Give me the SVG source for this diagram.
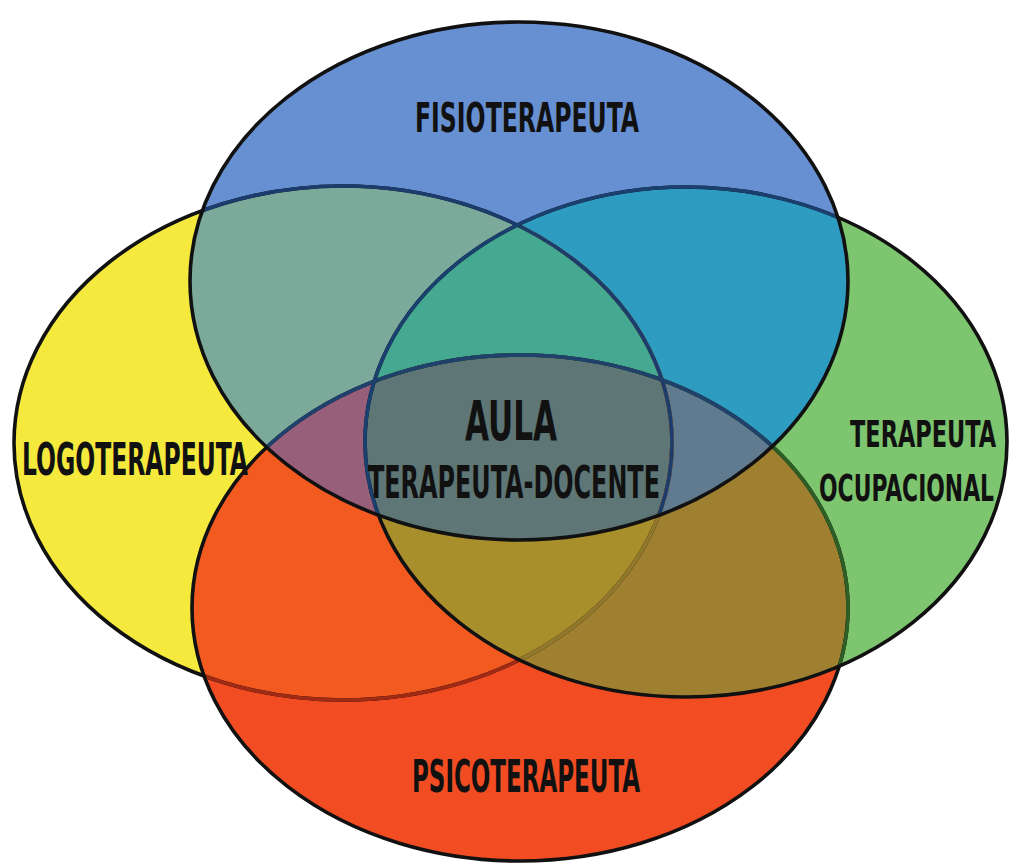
<svg xmlns="http://www.w3.org/2000/svg" width="1013" height="866" viewBox="0 0 1013 866">
<style>
.lbl{font-family:'DejaVu Sans Condensed','DejaVu Sans',sans-serif;font-weight:bold;fill:#111;}
.st{fill:none;stroke-width:3.6;}
</style>
<defs>
<ellipse id="eB" cx="519" cy="281" rx="329" ry="259"/>
<ellipse id="eY" cx="343" cy="443" rx="329" ry="257"/>
<ellipse id="eG" cx="686" cy="442" rx="321" ry="255"/>
<ellipse id="eR" cx="520" cy="608" rx="328" ry="253"/>
<clipPath id="cB"><use href="#eB"/></clipPath>
<clipPath id="cY"><use href="#eY"/></clipPath>
<clipPath id="cG"><use href="#eG"/></clipPath>
<clipPath id="cR"><use href="#eR"/></clipPath>
</defs>
<rect width="1013" height="866" fill="#ffffff"/>

<g id="regions">
<use href="#eY" fill="#F4E93C"/>
<use href="#eR" fill="#F24C22"/>
<use href="#eG" fill="#7DC56E"/>
<use href="#eB" fill="#6790D2"/>
<g clip-path="url(#cB)"><use href="#eY" fill="#7BAA9A"/></g>
<g clip-path="url(#cB)"><use href="#eG" fill="#2E9BC1"/></g>
<g clip-path="url(#cY)"><use href="#eR" fill="#F35A20"/></g>
<g clip-path="url(#cG)"><use href="#eR" fill="#9E8030"/></g>
<g clip-path="url(#cB)"><use href="#eR" fill="#5F7A8A"/></g>
<g clip-path="url(#cY)"><use href="#eG" fill="#A88F2C"/></g>
<g clip-path="url(#cB)"><g clip-path="url(#cY)"><use href="#eG" fill="#45A891"/></g></g>
<g clip-path="url(#cB)"><g clip-path="url(#cY)"><use href="#eR" fill="#975F7A"/></g></g>
<g clip-path="url(#cB)"><g clip-path="url(#cG)"><use href="#eR" fill="#607A8F"/></g></g>
<g clip-path="url(#cY)"><g clip-path="url(#cG)"><use href="#eR" fill="#A88F2C"/></g></g>
<g clip-path="url(#cB)"><g clip-path="url(#cY)"><g clip-path="url(#cG)"><use href="#eR" fill="#5E7676"/></g></g></g>
</g>

<g id="connectors">
<use href="#eY" class="st" stroke="#111"/>
<g clip-path="url(#cR)"><use href="#eY" class="st" stroke="#A02A14"/></g>
<g clip-path="url(#cG)"><use href="#eY" class="st" stroke="#8E7A2C" stroke-width="2"/></g>
<g clip-path="url(#cB)"><use href="#eY" class="st" stroke="#1C3C6E"/></g>
<use href="#eR" class="st" stroke="#111"/>
<g clip-path="url(#cG)"><use href="#eR" class="st" stroke="#2D5E25"/></g>
<g clip-path="url(#cB)"><use href="#eR" class="st" stroke="#20406E"/></g>
<use href="#eG" class="st" stroke="#111"/>
<g clip-path="url(#cB)"><use href="#eG" class="st" stroke="#1A4070"/></g>
<use href="#eB" class="st" stroke="#111"/>
</g>

<g id="node-fisio"><text class="lbl" x="415" y="132" font-size="41" textLength="224" lengthAdjust="spacingAndGlyphs">FISIOTERAPEUTA</text></g>
<g id="node-logo"><text class="lbl" x="22" y="475" font-size="44" textLength="226" lengthAdjust="spacingAndGlyphs">LOGOTERAPEUTA</text></g>
<g id="node-aula"><text class="lbl" x="465" y="440" font-size="55" textLength="92" lengthAdjust="spacingAndGlyphs">AULA</text>
<text class="lbl" x="368" y="498" font-size="45" textLength="292" lengthAdjust="spacingAndGlyphs">TERAPEUTA-DOCENTE</text></g>
<g id="node-to"><text class="lbl" x="850" y="447" font-size="38" textLength="146" lengthAdjust="spacingAndGlyphs">TERAPEUTA</text>
<text class="lbl" x="819" y="501" font-size="38" textLength="175" lengthAdjust="spacingAndGlyphs">OCUPACIONAL</text></g>
<g id="node-psico"><text class="lbl" x="412" y="792" font-size="44" textLength="228" lengthAdjust="spacingAndGlyphs">PSICOTERAPEUTA</text></g>
</svg>
